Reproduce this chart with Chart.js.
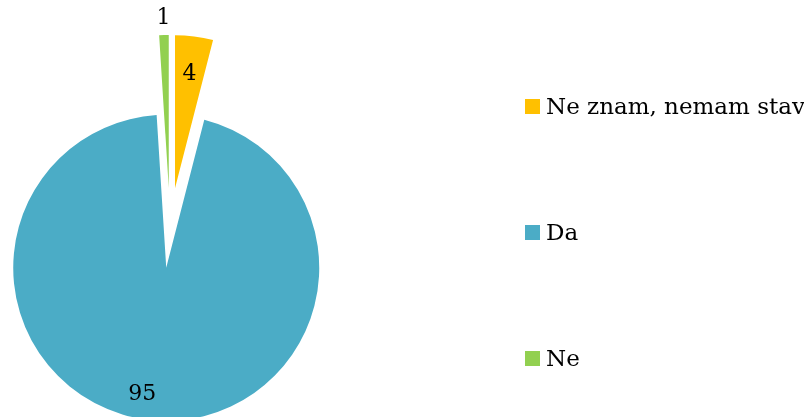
<!DOCTYPE html>
<html>
<head>
<meta charset="utf-8">
<script src="https://cdn.jsdelivr.net/npm/chart.js@4/dist/chart.umd.min.js"></script>
<style>
  html, body { margin: 0; padding: 0; background: #fff; }
  .wrap { position: relative; width: 804px; height: 417px; overflow: hidden; }
  canvas { position: absolute; left: 0; top: 0; }
  .legend { position: absolute; left: 525px; top: 95px; font-family: "DejaVu Serif", serif; font-size: 23px; color: #000; }
  .legend div { height: 126px; line-height: 23px; white-space: nowrap; }
  .legend span.box { display: inline-block; width: 15px; height: 15px; margin-right: 6px; vertical-align: baseline; }
</style>
</head>
<body>
<div class="wrap">
  <canvas id="chart" width="804" height="417"></canvas>
  <div class="legend" id="legend"></div>
</div>
<script>
const labels = ['Ne znam, nemam stav', 'Da', 'Ne'];
const values = [4, 95, 1];
const colors = ['#FFC000', '#4BACC6', '#92D050'];

// how far every slice is pulled out of the pie (px)
const explode = 40;
// where each value label sits: distance from the slice tip (as part of the radius), plus a small sideways nudge
const labelDist = [0.75, 0.83, 1.11];
const labelNudge = [0, -12, 0];

// legend built from the same arrays
const legend = document.getElementById('legend');
labels.forEach((label, i) => {
  const row = document.createElement('div');
  const box = document.createElement('span');
  box.className = 'box';
  box.style.background = colors[i];
  row.appendChild(box);
  row.appendChild(document.createTextNode(label));
  legend.appendChild(row);
});

// the built-in "offset" narrows thin slices in v4, so move each arc ourselves
const explodeSlices = {
  id: 'explodeSlices',
  beforeDatasetsDraw(chart) {
    chart.getDatasetMeta(0).data.forEach(arc => {
      if (arc._origDraw) return;
      arc._origDraw = arc.draw;
      arc.draw = function (ctx, area) {
        const mid = (this.startAngle + this.endAngle) / 2;
        ctx.save();
        ctx.translate(Math.cos(mid) * explode, Math.sin(mid) * explode);
        this._origDraw(ctx, area);
        ctx.restore();
      };
    });
  }
};

const valueLabels = {
  id: 'valueLabels',
  afterDatasetsDraw(chart) {
    const ctx = chart.ctx;
    const meta = chart.getDatasetMeta(0);
    ctx.save();
    ctx.font = '22px "DejaVu Serif", serif';
    ctx.fillStyle = '#000';
    ctx.textAlign = 'center';
    ctx.textBaseline = 'middle';
    meta.data.forEach((arc, i) => {
      const p = arc.getProps(['x', 'y', 'startAngle', 'endAngle', 'outerRadius'], true);
      const mid = (p.startAngle + p.endAngle) / 2;
      const d = explode + p.outerRadius * labelDist[i];
      const x = p.x + Math.cos(mid) * d + labelNudge[i];
      const y = p.y + Math.sin(mid) * d;
      ctx.fillText(String(values[i]), x, y);
    });
    ctx.restore();
  }
};

new Chart(document.getElementById('chart'), {
  type: 'pie',
  data: {
    labels: labels,
    datasets: [{
      data: values,
      backgroundColor: colors,
      borderWidth: 0,
      clip: false
    }]
  },
  options: {
    responsive: false,
    animation: false,
    radius: 153,
    layout: { padding: { left: 0, right: 464, top: 39, bottom: 0 } },
    plugins: {
      legend: { display: false },
      tooltip: { enabled: false }
    }
  },
  plugins: [explodeSlices, valueLabels]
});
</script>
</body>
</html>
